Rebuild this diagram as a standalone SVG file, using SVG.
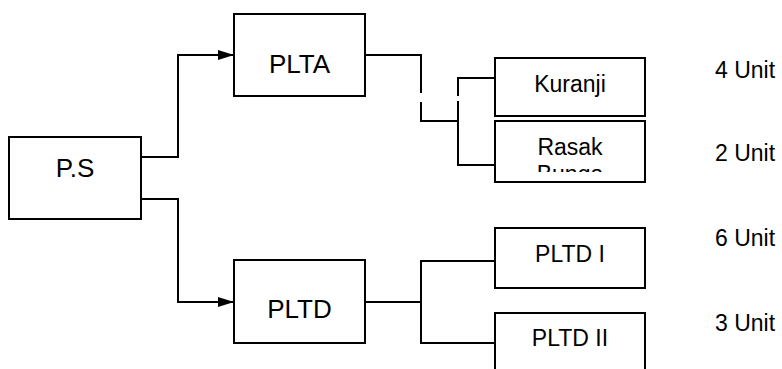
<svg xmlns="http://www.w3.org/2000/svg" width="782" height="369" viewBox="0 0 782 369">
<style>
.box{fill:#fff;stroke:#000;stroke-width:2}
.ln{fill:none;stroke:#000;stroke-width:2}
.t{font-family:"Liberation Sans",Arial,sans-serif;fill:#000;text-anchor:middle}
.big{font-size:26px}
.sm{font-size:23px}
.u{font-family:"Liberation Sans",Arial,sans-serif;fill:#000;font-size:23px}
</style>
<defs>
<marker id="arr" viewBox="0 0 16 10" refX="16" refY="5" markerWidth="16" markerHeight="10" markerUnits="userSpaceOnUse" orient="auto">
<path d="M0,0 L16,5 L0,10 Z" fill="#000"/>
</marker>
<clipPath id="rclip"><rect x="495" y="121" width="150" height="51"/></clipPath>
</defs>
<g id="connectors">
<path class="ln" d="M141,157 H178 V55 H234" marker-end="url(#arr)"/>
<path class="ln" d="M141,199 H178 V302 H234" marker-end="url(#arr)"/>
<path class="ln" d="M365,55 H421 V93"/>
<path class="ln" d="M421,102 V121 H458"/>
<path class="ln" d="M495,78 H458 V96"/>
<path class="ln" d="M458,101 V165 H495"/>
<path class="ln" d="M365,302 H421"/>
<path class="ln" d="M495,261 H421 V343 H495"/>
</g>
<g id="ps">
<rect class="box" x="9" y="137" width="132" height="82"/>
<text class="t big" x="75" y="177">P.S</text>
</g>
<g id="plta">
<rect class="box" x="234" y="14" width="131" height="82"/>
<text class="t big" x="299.5" y="72.5">PLTA</text>
</g>
<g id="pltd">
<rect class="box" x="234" y="260" width="131" height="83"/>
<text class="t big" x="299.5" y="318">PLTD</text>
</g>
<g id="kuranji">
<rect class="box" x="495" y="58" width="150" height="58"/>
<text class="t sm" x="570" y="91.5">Kuranji</text>
</g>
<g id="rasak">
<rect class="box" x="495" y="121" width="150" height="61"/>
<g clip-path="url(#rclip)">
<text class="t sm" x="570" y="155">Rasak</text>
<text class="t sm" x="570" y="182">Bunga</text>
</g>
</g>
<g id="pltd1">
<rect class="box" x="495" y="228" width="150" height="60"/>
<text class="t sm" x="570" y="262">PLTD I</text>
</g>
<g id="pltd2">
<path class="box" d="M495,380 V313 H645 V380"/>
<text class="t sm" x="570" y="346">PLTD II</text>
</g>
<g id="units">
<text class="u" x="715" y="78">4 Unit</text>
<text class="u" x="715" y="161">2 Unit</text>
<text class="u" x="715" y="246">6 Unit</text>
<text class="u" x="715" y="331">3 Unit</text>
</g>
</svg>
